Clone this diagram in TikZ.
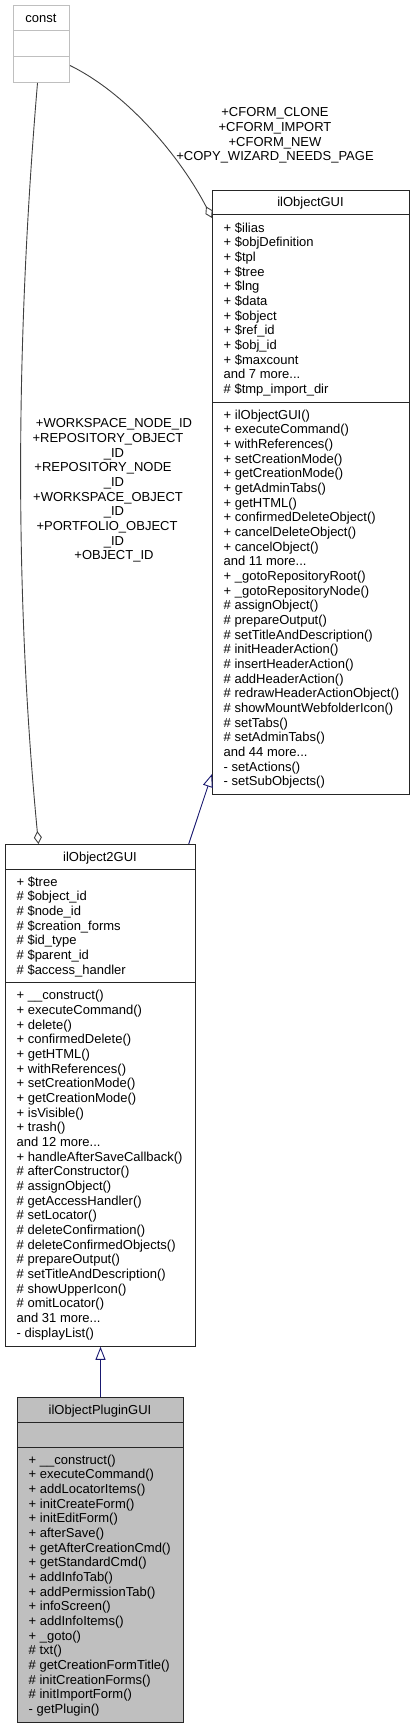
\documentclass[tikz,border=0pt]{standalone}
\usepackage{fontspec}
\setmainfont{Liberation Sans}
\usetikzlibrary{arrows.meta}
\definecolor{dGray}{RGB}{191,191,191}
\definecolor{dEdge}{RGB}{64,64,64}
\definecolor{dBlue}{RGB}{25,25,112}
\newcommand{\mstrut}{\rule{0pt}{12.5pt}}

\begin{document}
\begin{tikzpicture}[
  x=1pt,
  y=-1pt,
  every node/.style={font=\fontsize{13}{14.67}\selectfont, inner sep=0pt},
  classbox/.style={
    draw=black!85,
    line width=1pt,
    fill=white,
    anchor=north west
  },
  sepline/.style={draw=black!85, line width=1pt},
  members/.style={anchor=north west, align=left},
  lbl/.style={anchor=north, align=center},
  aggr/.style={draw=dEdge, line width=0.9pt, -{Diamond[open, length=13pt, width=8pt]}},
  inherit/.style={draw=dBlue, line width=0.9pt, -{Triangle[open, length=13pt, width=10pt]}}
]
  \useasboundingbox (0,0) rectangle (415,1728);

  % classes
  \node[classbox, draw=dGray, minimum width=56pt, minimum height=77pt] (cconst) at (13,5) {};
  \draw[sepline, draw=dGray] (13,30.7) -- (69,30.7);
  \draw[sepline, draw=dGray] (13,56.3) -- (69,56.3);
  \node[anchor=base] (tconst) at (41,22.5) {const};

  \node[classbox, minimum width=197pt, minimum height=604.4pt] (objgui) at (212,190) {};
  \draw[sepline] (objgui.west |- 0,215) -- (objgui.east |- 0,215);
  \draw[sepline] (objgui.west |- 0,402) -- (objgui.east |- 0,402);
  \node[anchor=base] (tobjgui) at (310.5,207) {ilObjectGUI};
  \node[members] (aobjgui) at (223.5,219.5) {\mstrut+ \$ilias\\+ \$objDefinition\\+ \$tpl\\+ \$tree\\+ \$lng\\+ \$data\\+ \$object\\+ \$ref\_id\\+ \$obj\_id\\+ \$maxcount\\and 7 more...\\\# \$tmp\_import\_dir};
  \node[members] (mobjgui) at (223.5,406.5) {\mstrut+ ilObjectGUI()\\+ executeCommand()\\+ withReferences()\\+ setCreationMode()\\+ getCreationMode()\\+ getAdminTabs()\\+ getHTML()\\+ confirmedDeleteObject()\\+ cancelDeleteObject()\\+ cancelObject()\\and 11 more...\\+ \_gotoRepositoryRoot()\\+ \_gotoRepositoryNode()\\\# assignObject()\\\# prepareOutput()\\\# setTitleAndDescription()\\\# initHeaderAction()\\\# insertHeaderAction()\\\# addHeaderAction()\\\# redrawHeaderActionObject()\\\# showMountWebfolderIcon()\\\# setTabs()\\\# setAdminTabs()\\and 44 more...\\- setActions()\\- setSubObjects()};

  \node[classbox, minimum width=190pt, minimum height=501.8pt] (obj2gui) at (5,844) {};
  \draw[sepline] (obj2gui.west |- 0,869) -- (obj2gui.east |- 0,869);
  \draw[sepline] (obj2gui.west |- 0,982.7) -- (obj2gui.east |- 0,982.7);
  \node[anchor=base] (tobj2gui) at (100,861) {ilObject2GUI};
  \node[members] (aobj2gui) at (16.5,873.5) {\mstrut+ \$tree\\\# \$object\_id\\\# \$node\_id\\\# \$creation\_forms\\\# \$id\_type\\\# \$parent\_id\\\# \$access\_handler};
  \node[members] (mobj2gui) at (16.5,987.2) {\mstrut+ \_\_construct()\\+ executeCommand()\\+ delete()\\+ confirmedDelete()\\+ getHTML()\\+ withReferences()\\+ setCreationMode()\\+ getCreationMode()\\+ isVisible()\\+ trash()\\and 12 more...\\+ handleAfterSaveCallback()\\\# afterConstructor()\\\# assignObject()\\\# getAccessHandler()\\\# setLocator()\\\# deleteConfirmation()\\\# deleteConfirmedObjects()\\\# prepareOutput()\\\# setTitleAndDescription()\\\# showUpperIcon()\\\# omitLocator()\\and 31 more...\\- displayList()};

  \node[classbox, fill=dGray, minimum width=166pt, minimum height=325pt] (plugingui) at (17,1397) {};
  \draw[sepline] (plugingui.west |- 0,1422) -- (plugingui.east |- 0,1422);
  \draw[sepline] (plugingui.west |- 0,1447) -- (plugingui.east |- 0,1447);
  \node[anchor=base] (tplugingui) at (100,1414) {ilObjectPluginGUI};
  \node[members] (mplugingui) at (28.5,1451.5) {\mstrut+ \_\_construct()\\+ executeCommand()\\+ addLocatorItems()\\+ initCreateForm()\\+ initEditForm()\\+ afterSave()\\+ getAfterCreationCmd()\\+ getStandardCmd()\\+ addInfoTab()\\+ addPermissionTab()\\+ infoScreen()\\+ addInfoItems()\\+ \_goto()\\\# txt()\\\# getCreationFormTitle()\\\# initCreationForms()\\\# initImportForm()\\- getPlugin()};

  % relations
  \draw[aggr] ([yshift=-21.5pt]cconst.east) .. controls (130,95) and (182,160) .. ([yshift=-28pt]objgui.north west);
  \draw[aggr] ([xshift=-4pt]cconst.south) .. controls (15,350) and (15,600) .. ([xshift=-62pt]obj2gui.north);
  \draw[inherit] ([xshift=-7.3pt]obj2gui.north east) -- ([yshift=21.4pt]objgui.south west);
  \draw[inherit] (plugingui.north) -- (obj2gui.south);

  \node[lbl] (lblcform) at (275,104) {\mstrut+CFORM\_CLONE\\+CFORM\_IMPORT\\+CFORM\_NEW\\+COPY\_WIZARD\_NEEDS\_PAGE};
  \node[lbl] (lblids) at (114,415) {\mstrut+WORKSPACE\_NODE\_ID\\+REPOSITORY\_OBJECT\rule{12pt}{0pt}\\\_ID\\+REPOSITORY\_NODE\rule{22pt}{0pt}\\\_ID\\+WORKSPACE\_OBJECT\rule{12pt}{0pt}\\\_ID\\+PORTFOLIO\_OBJECT\rule{14pt}{0pt}\\\_ID\\+OBJECT\_ID};
\end{tikzpicture}
\end{document}
